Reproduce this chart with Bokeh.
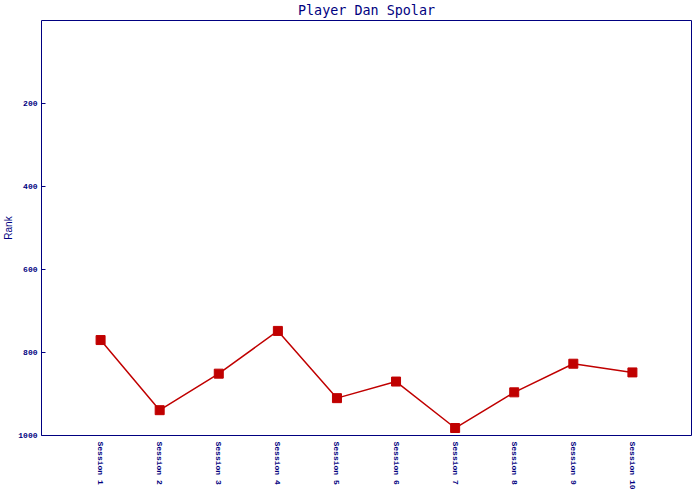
from bokeh.plotting import figure
from bokeh.models import FactorRange, Range1d, FixedTicker, ColumnDataSource
from bokeh.embed import file_html
from bokeh.resources import INLINE

sessions = ["Session 1", "Session 2", "Session 3", "Session 4", "Session 5",
            "Session 6", "Session 7", "Session 8", "Session 9", "Session 10"]
ranks = [770, 939, 851, 748, 910, 870, 982, 896, 827, 848]
y_ticks = [200, 400, 600, 800, 1000]
title_text = "Player Dan Spolar"
y_label = "Rank"

NAVY = "#000080"
RED = "#C00000"

p = figure(width=692, height=492, output_backend="svg", toolbar_location=None,
           title=title_text,
           x_range=FactorRange(factors=sessions, range_padding=0.5, range_padding_units="absolute"),
           y_range=Range1d(1000, 0),
           min_border_left=41, min_border_right=1, min_border_top=20, min_border_bottom=52)

p.title.align = "center"
p.title.vertical_align = "top"
p.title.text_font = "DejaVu Sans Mono"
p.title.text_font_size = "13.4px"
p.title.text_font_style = "normal"
p.title.text_color = NAVY
p.title.standoff = 2
p.title.offset = 0

p.xgrid.visible = False
p.ygrid.visible = False
p.outline_line_color = NAVY
p.outline_line_width = 1
p.outline_line_alpha = 1
p.background_fill_color = "white"
p.border_fill_color = "white"

src = ColumnDataSource(dict(x=sessions, y=ranks))
p.line("x", "y", source=src, line_color=RED, line_width=1.5)
p.scatter("x", "y", source=src, marker="square", size=9, fill_color=RED, line_color=RED)

ax = p.xaxis[0]
ax.axis_line_color = None
ax.major_tick_line_color = None
ax.minor_tick_line_color = None
ax.major_label_orientation = "vertical"
ax.major_label_standoff = 0
ax.major_label_text_font = "Liberation Mono"
ax.major_label_text_font_size = "8px"
ax.major_label_text_font_style = "bold"
ax.major_label_text_color = NAVY

ay = p.yaxis[0]
ay.ticker = FixedTicker(ticks=y_ticks)
ay.axis_line_color = None
ay.major_tick_line_color = NAVY
ay.major_tick_in = 4
ay.major_tick_out = 0
ay.minor_tick_line_color = None
ay.major_label_standoff = 4
ay.major_label_text_font = "Liberation Mono"
ay.major_label_text_font_size = "8px"
ay.major_label_text_font_style = "bold"
ay.major_label_text_color = NAVY
ay.axis_label = y_label
ay.axis_label_text_font = "Liberation Sans"
ay.axis_label_text_font_size = "10px"
ay.axis_label_text_font_style = "normal"
ay.axis_label_text_color = NAVY
ay.axis_label_standoff = 1

open("out.html", "w").write(file_html(p, INLINE))
